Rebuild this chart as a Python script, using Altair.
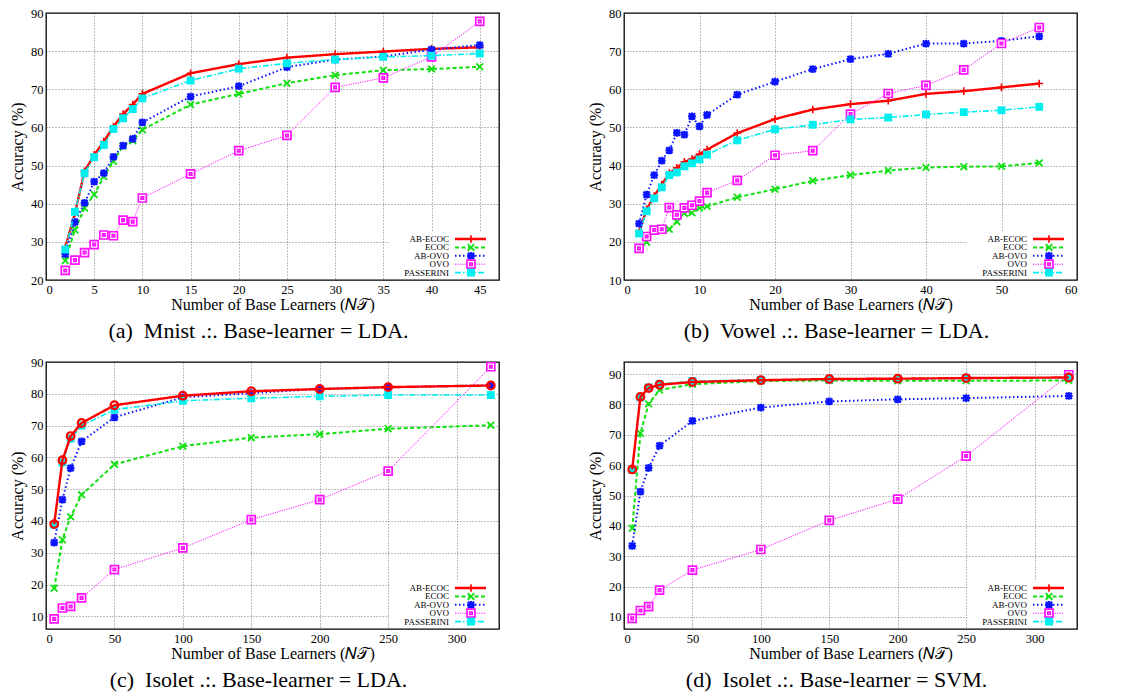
import altair as alt
import pandas as pd

SERIES = ["AB-ECOC", "ECOC", "AB-OVO", "OVO", "PASSERINI"]

# ---------------- data ----------------
mnist_x = [2, 3, 4, 5, 6, 7, 8, 9, 10, 15, 20, 25, 30, 35, 40, 45]
mnist_ab_ecoc = [28.5, 37.5, 48.5, 52.8, 56.3, 60.2, 63.5, 66.0, 68.8, 74.2, 76.6, 78.3, 79.2, 79.9, 80.6, 81.0]
mnist_ecoc = [25.1, 33.1, 38.9, 42.4, 47.1, 51.1, 55.2, 56.5, 59.4, 66.0, 68.8, 71.6, 73.7, 75.0, 75.3, 75.9]
mnist_ab_ovo = [26.8, 35.2, 40.2, 45.8, 48.0, 52.3, 55.2, 57.0, 61.3, 68.1, 70.8, 75.8, 77.8, 78.6, 80.4, 81.6]
mnist_ovo = [22.5, 25.2, 27.2, 29.3, 31.8, 31.6, 35.7, 35.3, 41.5, 47.8, 53.9, 57.9, 70.5, 73.0, 78.5, 87.8]
mnist_pass = [28.0, 37.9, 48.0, 52.2, 55.4, 59.6, 62.4, 64.8, 67.6, 72.3, 75.4, 76.8, 77.8, 78.5, 78.8, 79.4]

vowel_x = [2, 3, 4, 5, 6, 7, 8, 9, 10, 11, 15, 20, 25, 30, 35, 40, 45, 50, 55]
vowel_ab_ecoc = [22.5, 28.5, 32.0, 35.0, 38.0, 39.4, 41.0, 41.7, 43.0, 44.2, 48.5, 52.2, 54.7, 56.1, 57.0, 58.8, 59.5, 60.5, 61.5]
vowel_ecoc = [18.4, 19.9, 22.9, 23.2, 23.3, 25.3, 27.5, 27.6, 28.9, 29.3, 31.7, 33.8, 36.0, 37.5, 38.7, 39.5, 39.7, 39.8, 40.7]
vowel_ab_ovo = [24.8, 32.4, 37.5, 41.3, 44.0, 48.6, 48.1, 52.9, 50.3, 53.3, 58.6, 62.0, 65.3, 67.9, 69.3, 72.0, 72.0, 72.7, 73.9]
vowel_ovo = [18.3, 21.4, 23.1, 23.3, 29.0, 27.1, 28.9, 29.6, 30.7, 32.9, 36.1, 42.7, 43.9, 53.5, 58.9, 61.0, 65.1, 72.0, 76.2]
vowel_pass = [22.2, 28.0, 31.4, 34.3, 37.5, 38.2, 39.8, 40.6, 41.6, 42.9, 46.6, 49.5, 50.7, 52.1, 52.6, 53.4, 54.0, 54.5, 55.4]

isolet_x = [6, 12, 18, 26, 50, 100, 150, 200, 250, 325]
lda_ab_ecoc = [39.0, 59.1, 66.7, 70.8, 76.4, 79.4, 80.8, 81.5, 82.1, 82.6]
lda_ecoc = [18.8, 34.1, 41.3, 48.2, 57.8, 63.5, 66.2, 67.3, 69.0, 70.1]
lda_ab_ovo = [33.2, 46.7, 56.6, 65.0, 72.6, 78.9, 80.2, 81.5, 82.0, 82.7]
lda_ovo = [9.2, 12.6, 13.1, 15.8, 24.7, 31.5, 40.4, 46.7, 55.7, 88.5]
lda_pass = [38.8, 58.4, 65.9, 70.0, 75.0, 77.8, 78.6, 79.2, 79.6, 79.6]

svm_ab_ecoc = [58.6, 82.5, 85.4, 86.5, 87.4, 88.0, 88.4, 88.5, 88.7, 88.9]
svm_ecoc = [39.2, 70.5, 80.2, 84.8, 86.7, 87.7, 87.9, 87.8, 87.8, 87.9]
svm_ab_ovo = [33.4, 51.3, 59.1, 66.4, 74.6, 79.0, 81.0, 81.7, 82.1, 82.8]
svm_ovo = [9.5, 12.1, 13.4, 18.8, 25.4, 32.2, 41.8, 48.8, 63.0, 89.8]
svm_pass = [58.4, 82.3, 85.6, 86.7, 87.7, 88.1, 88.3, 88.4, 88.6, 88.8]

# ---------------- styles ----------------
FONT = "Liberation Serif"
W, H = 453, 267
STYLE = {
    "AB-ECOC": dict(color="#ff0000", dash=[1, 0], width=2.4,
                    shape="M-1,0H1M0,-1V1", size=60, sw=1.6, fill="transparent"),
    "ECOC": dict(color="#11e011", dash=[4, 2.5], width=2.0,
                 shape="M-1,-1L1,1M-1,1L1,-1", size=45, sw=1.8, fill="transparent"),
    "AB-OVO": dict(color="#0a14ff", dash=[1.5, 2.5], width=2.0,
                   shape="M-1,0H1M0,-1V1M-0.8,-0.8L0.8,0.8M-0.8,0.8L0.8,-0.8", size=60, sw=2.2,
                   fill="transparent"),
    "OVO": dict(color="#ff10ff", dash=[1.2, 1.2], width=1.0,
                shape="M-1,-1H1V1H-1Z M-0.3,-0.3H0.3V0.3H-0.3Z", size=64, sw=1.7, fill="white"),
    "PASSERINI": dict(color="#00eeee", dash=[6, 2, 1.5, 2], width=1.6,
                      shape="square", size=62, sw=0, fill="#00eeee"),
}

XTITLE = "Number of Base Learners (\U0001D441\U0001D4AF)"


def panel(xs, vals, xdom, ydom, xticks, yticks, caption, circles):
    rows = []
    for s, v in zip(SERIES, vals):
        for x, y in zip(xs, v):
            rows.append({"series": s, "x": x, "y": y})
    df = pd.DataFrame(rows)
    xs_ = alt.Scale(domain=xdom, nice=False, zero=False)
    ys_ = alt.Scale(domain=ydom, nice=False, zero=False)
    xax = alt.Axis(values=xticks, title=XTITLE, titlePadding=1)
    yax = alt.Axis(values=yticks, title="Accuracy (%)", titlePadding=5)
    X = alt.X("x:Q", scale=xs_, axis=xax)
    Y = alt.Y("y:Q", scale=ys_, axis=yax)
    base = alt.Chart(df)
    layers = [base.mark_point(opacity=0).encode(x=X, y=Y)]
    # opaque key box
    one = alt.Data(values=[{"k": 1}])
    layers.append(alt.Chart(one).mark_rect(fill="white", stroke=None).encode(
        x=alt.value(W - 110), x2=alt.value(W - 1), y=alt.value(H - 48), y2=alt.value(H - 1)))
    order = SERIES if not circles else ["ECOC", "AB-OVO", "OVO", "PASSERINI", "AB-ECOC"]
    for s in order:
        st = STYLE[s]
        sub = base.transform_filter(alt.datum.series == s)
        layers.append(sub.mark_line(color=st["color"], strokeDash=st["dash"],
                                    strokeWidth=st["width"]).encode(x=X, y=Y))
        if s == "AB-ECOC" and circles:
            pt = sub.mark_point(shape="circle", size=58, stroke=st["color"], strokeWidth=2.2,
                                fill="transparent", filled=False, opacity=1)
        else:
            pt = sub.mark_point(shape=st["shape"], size=st["size"], stroke=st["color"],
                                strokeWidth=st["sw"], fill=st["fill"], filled=False, opacity=1,
                                fillOpacity=1)
        layers.append(pt.encode(x=X, y=Y))
    # key
    for i, s in enumerate(SERIES):
        st = STYLE[s]
        yy = H - 41 + i * 8.4
        d = alt.Data(values=[{"name": s}])
        layers.append(alt.Chart(d).mark_text(align="right", baseline="middle", font=FONT,
                                              fontSize=9, color="black").encode(
            x=alt.value(W - 50), y=alt.value(yy), text=alt.Text("name:N")))
        layers.append(alt.Chart(d).mark_rule(color=st["color"], strokeDash=st["dash"],
                                              strokeWidth=st["width"]).encode(
            x=alt.value(W - 44), x2=alt.value(W - 13), y=alt.value(yy)))
        layers.append(alt.Chart(d).mark_point(shape=st["shape"], size=st["size"], stroke=st["color"],
                                               strokeWidth=st["sw"], fill=st["fill"], filled=False,
                                               opacity=1, fillOpacity=1).encode(
            x=alt.value(W - 28), y=alt.value(yy)))
    return alt.layer(*layers).properties(
        width=W, height=H,
        title=alt.TitleParams(caption, orient="bottom", font=FONT, fontSize=22, fontWeight="normal",
                              color="black", offset=8, anchor="middle", dx=-14),
    )


pa = panel(mnist_x, [mnist_ab_ecoc, mnist_ecoc, mnist_ab_ovo, mnist_ovo, mnist_pass],
           [0, 47], [20, 90], list(range(0, 46, 5)), list(range(20, 91, 10)),
           "(a)\u00a0 Mnist .:. Base-learner = LDA.", False)
pb = panel(vowel_x, [vowel_ab_ecoc, vowel_ecoc, vowel_ab_ovo, vowel_ovo, vowel_pass],
           [0, 60], [10, 80], list(range(0, 61, 10)), list(range(10, 81, 10)),
           "(b)\u00a0 Vowel .:. Base-learner = LDA.", False)
pc = panel(isolet_x, [lda_ab_ecoc, lda_ecoc, lda_ab_ovo, lda_ovo, lda_pass],
           [0, 331], [6, 90], list(range(0, 301, 50)), list(range(10, 91, 10)),
           "(c)\u00a0 Isolet .:. Base-learner = LDA.", True)
pd_ = panel(isolet_x, [svm_ab_ecoc, svm_ecoc, svm_ab_ovo, svm_ovo, svm_pass],
            [0, 331], [6, 94], list(range(0, 301, 50)), list(range(10, 91, 10)),
            "(d)\u00a0 Isolet .:. Base-learner = SVM.", True)

chart = alt.vconcat(
    alt.hconcat(pa, pb, spacing=86),
    alt.hconcat(pc, pd_, spacing=86),
    spacing=12,
).properties(padding={"left": 0, "top": -2, "right": 0, "bottom": 0}, background="white").configure_view(
    stroke="black", strokeWidth=1.3
).configure_axis(
    labelFont=FONT, titleFont=FONT, labelFontSize=12.5, titleFontSize=16, labelColor="black",
    titleColor="black", titleFontWeight="normal", ticks=False, domain=False, labelPadding=3,
    grid=True, gridColor="#333333", gridDash=[1, 2], gridWidth=0.8, gridOpacity=0.8,
    labelOverlap=False,
)

chart.save("out.html", embed_options={"renderer": "svg", "actions": False})
